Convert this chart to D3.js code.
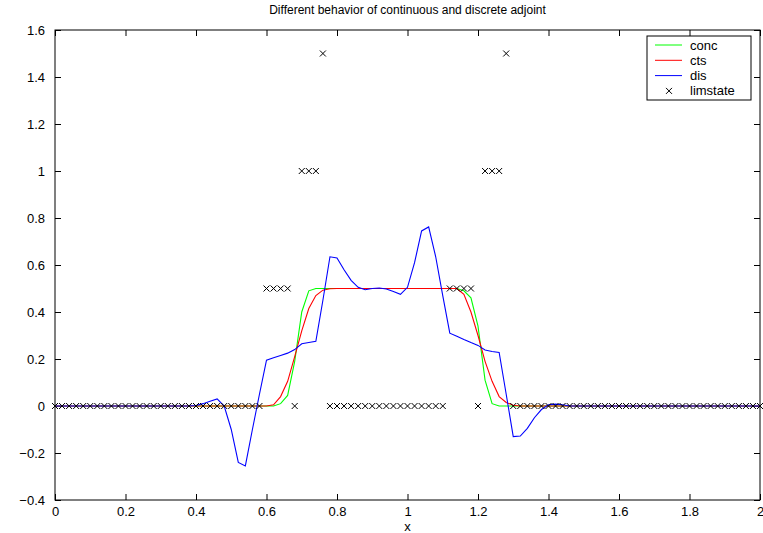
<!DOCTYPE html>
<html>
<head>
<meta charset="utf-8">
<script src="https://cdn.jsdelivr.net/npm/d3@7"></script>
<style>
  html, body { margin: 0; padding: 0; background: #fff; }
  svg text { font-family: "Liberation Sans", Arial, Helvetica, sans-serif; fill: #000; }
</style>
</head>
<body>
<svg id="chart" width="763" height="533"></svg>
<script>
const xs = [0,0.02,0.04,0.06,0.08,0.1,0.12,0.14,0.16,0.18,
  0.2,0.22,0.24,0.26,0.28,0.3,0.32,0.34,0.36,0.38,
  0.4,0.42,0.44,0.46,0.48,0.5,0.52,0.54,0.56,0.58,
  0.6,0.62,0.64,0.66,0.68,0.7,0.72,0.74,0.76,0.78,
  0.8,0.82,0.84,0.86,0.88,0.9,0.92,0.94,0.96,0.98,
  1,1.02,1.04,1.06,1.08,1.1,1.12,1.14,1.16,1.18,
  1.2,1.22,1.24,1.26,1.28,1.3,1.32,1.34,1.36,1.38,
  1.4,1.42,1.44,1.46,1.48,1.5,1.52,1.54,1.56,1.58,
  1.6,1.62,1.64,1.66,1.68,1.7,1.72,1.74,1.76,1.78,
  1.8,1.82,1.84,1.86,1.88,1.9,1.92,1.94,1.96,1.98,
  2];

const conc = [0,0,0,0,0,0,0,0,0,0,
  0,0,0,0,0,0,0,0,0,0,
  0,0,0,0,0,0,0,0,0,0,
  0,0,0.01,0.045,0.19,0.40,0.49,0.5,0.5,0.5,
  0.5,0.5,0.5,0.5,0.5,0.5,0.5,0.5,0.5,0.5,
  0.5,0.5,0.5,0.5,0.5,0.5,0.5,0.5,0.49,0.46,
  0.34,0.11,0.01,0,0,0,0,0,0,0,
  0,0,0,0,0,0,0,0,0,0,
  0,0,0,0,0,0,0,0,0,0,
  0,0,0,0,0,0,0,0,0,0,
  0];

const cts = [0,0,0,0,0,0,0,0,0,0,
  0,0,0,0,0,0,0,0,0,0,
  0,0,0,0,0,0,0,0,0,0,
  0,0.005,0.04,0.105,0.21,0.32,0.415,0.47,0.493,0.499,
  0.5,0.5,0.5,0.5,0.5,0.5,0.5,0.5,0.5,0.5,
  0.5,0.5,0.5,0.5,0.5,0.5,0.5,0.5,0.475,0.40,
  0.30,0.19,0.105,0.04,0.015,0.003,0,0,0,0,
  0,0,0,0,0,0,0,0,0,0,
  0,0,0,0,0,0,0,0,0,0,
  0,0,0,0,0,0,0,0,0,0,
  0];

const dis = [0,0,0,0,0,0,0,0,0,0,
  0,0,0,0,0,0,0,0,0,0,
  0.002,0.01,0.02,0.03,0,-0.10,-0.24,-0.255,-0.10,0.05,
  0.195,0.205,0.215,0.225,0.24,0.265,0.27,0.275,0.45,0.635,
  0.63,0.58,0.535,0.505,0.495,0.50,0.502,0.498,0.487,0.475,
  0.505,0.61,0.745,0.762,0.635,0.47,0.31,0.297,0.283,0.27,
  0.258,0.238,0.232,0.228,0.05,-0.13,-0.128,-0.095,-0.05,-0.015,
  0.005,0.008,0.005,0,0,0,0,0,0,0,
  0,0,0,0,0,0,0,0,0,0,
  0,0,0,0,0,0,0,0,0,0,
  0];

const limstate = [0,0,0,0,0,0,0,0,0,0,
  0,0,0,0,0,0,0,0,0,0,
  0,0,0,0,0,0,0,0,0,0,
  0.5,0.5,0.5,0.5,0,1,1,1,1.5,0,
  0,0,0,0,0,0,0,0,0,0,
  0,0,0,0,0,0,0.5,0.5,0.5,0.5,
  0,1,1,1,1.5,0,0,0,0,0,
  0,0,0,0,0,0,0,0,0,0,
  0,0,0,0,0,0,0,0,0,0,
  0,0,0,0,0,0,0,0,0,0,
  0];

const xTicks = [0,0.2,0.4,0.6,0.8,1,1.2,1.4,1.6,1.8,2];
const yTicks = [-0.4,-0.2,0,0.2,0.4,0.6,0.8,1,1.2,1.4,1.6];
const seriesNames = ["conc","cts","dis","limstate"];
const seriesColors = ["#00ff00","#ff0000","#0000ff","#000000"];
const title = "Different behavior of continuous and discrete adjoint";
const xLabel = "x";

const svg = d3.select("#chart");
const L = 55, R = 760, T = 30, B = 500;
const x = d3.scaleLinear().domain([0,2]).range([L,R]);
const y = d3.scaleLinear().domain([-0.4,1.6]).range([B,T]);

const fmt = v => (v < 0 ? "\u2212" + Math.abs(v) : String(v));

// frame
svg.append("rect").attr("x",L).attr("y",T).attr("width",R-L).attr("height",B-T)
  .attr("fill","none").attr("stroke","#000").attr("stroke-width",1);

// axes with inward ticks
const tk = 6;
svg.append("g").attr("transform",`translate(0,${B})`)
  .call(d3.axisBottom(x).tickValues(xTicks).tickSizeInner(-tk).tickSizeOuter(0).tickPadding(7).tickFormat(fmt))
  .call(g => { g.select(".domain").remove(); g.selectAll("text").attr("font-size",13).attr("font-family","Liberation Sans, Arial, sans-serif"); });
svg.append("g").attr("transform",`translate(0,${T})`)
  .call(d3.axisTop(x).tickValues(xTicks).tickSizeInner(-tk).tickSizeOuter(0).tickFormat(""))
  .call(g => g.select(".domain").remove());
svg.append("g").attr("transform",`translate(${L},0)`)
  .call(d3.axisLeft(y).tickValues(yTicks).tickSizeInner(-tk).tickSizeOuter(0).tickPadding(10).tickFormat(fmt))
  .call(g => { g.select(".domain").remove(); g.selectAll("text").attr("font-size",13).attr("font-family","Liberation Sans, Arial, sans-serif"); });
svg.append("g").attr("transform",`translate(${R},0)`)
  .call(d3.axisRight(y).tickValues(yTicks).tickSizeInner(-tk).tickSizeOuter(0).tickFormat(""))
  .call(g => g.select(".domain").remove());
svg.selectAll(".tick line").attr("stroke","#000");

// title and axis label
svg.append("text").attr("x",(L+R)/2).attr("y",14).attr("text-anchor","middle")
  .attr("font-size",12).text(title);
svg.append("text").attr("x",(L+R)/2).attr("y",531).attr("text-anchor","middle")
  .attr("font-size",13).text(xLabel);

// lines
const line = d3.line().x((d,i)=>x(xs[i])).y(d=>y(d));
[conc, cts, dis].forEach((s, k) => {
  svg.append("path").datum(s).attr("d", line)
    .attr("fill","none").attr("stroke",seriesColors[k]).attr("stroke-width",1.1);
});

// limstate markers
const xm = (cx, cy, r) => `M${cx-r},${cy-r}L${cx+r},${cy+r}M${cx-r},${cy+r}L${cx+r},${cy-r}`;
svg.append("g").selectAll("path").data(limstate).join("path")
  .attr("d",(d,i)=>xm(x(xs[i]), y(d), 3))
  .attr("stroke","#000").attr("stroke-width",1).attr("fill","none");

// legend
const lg = svg.append("g");
lg.append("rect").attr("x",647).attr("y",36).attr("width",104).attr("height",64)
  .attr("fill","#fff").attr("stroke","#000").attr("stroke-width",1);
seriesNames.forEach((n,k) => {
  const yy = 45 + k*15.3;
  if (k < 3) {
    lg.append("line").attr("x1",655).attr("x2",682).attr("y1",yy).attr("y2",yy)
      .attr("stroke",seriesColors[k]).attr("stroke-width",1);
  } else {
    lg.append("path").attr("d", xm(669, yy, 3)).attr("stroke","#000").attr("stroke-width",1);
  }
  lg.append("text").attr("x",690).attr("y",yy+4.5).attr("font-size",13).text(n);
});
</script>
</body>
</html>
